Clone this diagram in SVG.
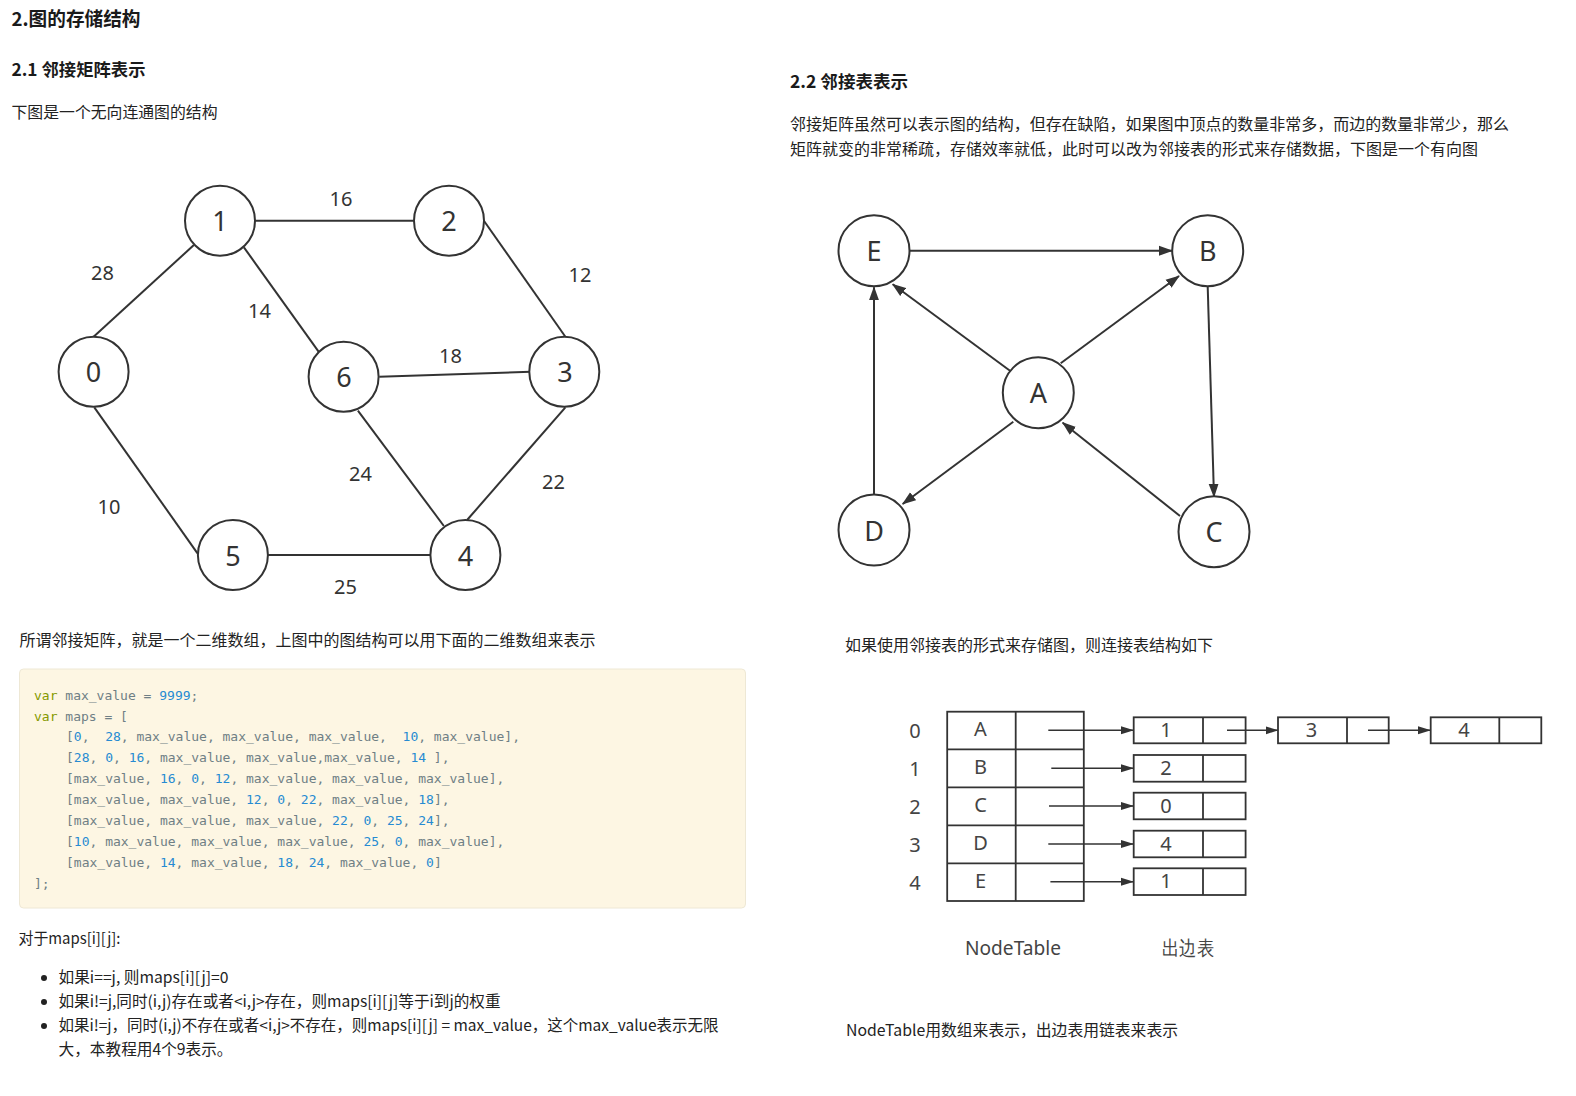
<svg xmlns="http://www.w3.org/2000/svg" width="1576" height="1096" viewBox="0 0 1576 1096">
<style>
.h{font-family:"Noto Sans CJK SC","Noto Sans",sans-serif;font-weight:bold;fill:#1a1a1a}
.p{font-family:"Noto Sans CJK SC","Noto Sans",sans-serif;font-size:15.5px;fill:#222}
.node circle{fill:#fff;stroke:#333;stroke-width:2}
.node text{font-family:"Noto Sans","Noto Sans CJK SC",sans-serif;font-size:27px;fill:#333;text-anchor:middle;dominant-baseline:central}
.edges line{stroke:#333;stroke-width:2}
.w{font-family:"Noto Sans",sans-serif;font-size:20px;fill:#333;text-anchor:middle;dominant-baseline:central}
.code text{font-family:"DejaVu Sans Mono","Liberation Mono",monospace;font-size:13px;fill:#6f7f85;white-space:pre}
.k{fill:#859900}
.n{fill:#268bd2}
.cell{fill:none;stroke:#333;stroke-width:1.8}
.lt{font-family:"Noto Sans",sans-serif;font-size:20px;fill:#444;text-anchor:middle;dominant-baseline:central}
.al line{stroke:#333;stroke-width:1.6}
</style>
<defs>
<marker id="ah" markerUnits="userSpaceOnUse" markerWidth="15" markerHeight="11" refX="13" refY="5.5" orient="auto">
<path d="M0,0.5 L14,5.5 L0,10.5 z" fill="#333"/>
</marker>
<marker id="ah2" markerUnits="userSpaceOnUse" markerWidth="14" markerHeight="10" refX="12" refY="5" orient="auto">
<path d="M0,1 L13,5 L0,9 z" fill="#333"/>
</marker>
</defs>
<rect width="1576" height="1096" fill="#fff"/>

<!-- Headings and text -->
<text class="h" x="11.5" y="25.5" font-size="19" textLength="129" lengthAdjust="spacingAndGlyphs">2.图的存储结构</text>
<text class="h" x="11.5" y="76" font-size="17.5" textLength="134" lengthAdjust="spacingAndGlyphs">2.1 邻接矩阵表示</text>
<text class="p" x="11.5" y="118" textLength="206" lengthAdjust="spacingAndGlyphs">下图是一个无向连通图的结构</text>
<text class="h" x="790" y="88" font-size="17.5" textLength="118" lengthAdjust="spacingAndGlyphs">2.2 邻接表表示</text>
<text class="p" x="790" y="130" textLength="719" lengthAdjust="spacingAndGlyphs">邻接矩阵虽然可以表示图的结构，但存在缺陷，如果图中顶点的数量非常多，而边的数量非常少，那么</text>
<text class="p" x="790" y="155" textLength="688" lengthAdjust="spacingAndGlyphs">矩阵就变的非常稀疏，存储效率就低，此时可以改为邻接表的形式来存储数据，下图是一个有向图</text>
<text class="p" x="19.5" y="646" textLength="576" lengthAdjust="spacingAndGlyphs">所谓邻接矩阵，就是一个二维数组，上图中的图结构可以用下面的二维数组来表示</text>
<text class="p" x="845" y="651" textLength="368" lengthAdjust="spacingAndGlyphs">如果使用邻接表的形式来存储图，则连接表结构如下</text>
<text class="p" x="846" y="1036" textLength="332" lengthAdjust="spacingAndGlyphs">NodeTable用数组来表示，出边表用链表来表示</text>
<text class="p" x="18.5" y="944" textLength="102" lengthAdjust="spacingAndGlyphs">对于maps[i][j]:</text>
<circle cx="44" cy="978" r="3" fill="#222"/>
<circle cx="44" cy="1002" r="3" fill="#222"/>
<circle cx="44" cy="1026" r="3" fill="#222"/>
<text class="p" x="58.5" y="983" textLength="170" lengthAdjust="spacingAndGlyphs">如果i==j, 则maps[i][j]=0</text>
<text class="p" x="58.5" y="1007" textLength="442" lengthAdjust="spacingAndGlyphs">如果i!=j,同时(i,j)存在或者&lt;i,j&gt;存在，则maps[i][j]等于i到j的权重</text>
<text class="p" x="58.5" y="1031" textLength="660" lengthAdjust="spacingAndGlyphs">如果i!=j，同时(i,j)不存在或者&lt;i,j&gt;不存在，则maps[i][j] = max_value，这个max_value表示无限</text>
<text class="p" x="58.5" y="1055" textLength="174" lengthAdjust="spacingAndGlyphs">大，本教程用4个9表示。</text>

<!-- Code block -->
<rect x="19.5" y="669" width="726" height="239" rx="4" fill="#fdf6e3" stroke="#eee8d5"/>
<g class="code">
<text x="34" y="699.5" xml:space="preserve"><tspan class="k">var</tspan> max_value = <tspan class="n">9999</tspan>;</text>
<text x="34" y="720.5" xml:space="preserve"><tspan class="k">var</tspan> maps = [</text>
<text x="66" y="741.2" xml:space="preserve">[<tspan class="n">0</tspan>,  <tspan class="n">28</tspan>, max_value, max_value, max_value,  <tspan class="n">10</tspan>, max_value],</text>
<text x="66" y="762.2" xml:space="preserve">[<tspan class="n">28</tspan>, <tspan class="n">0</tspan>, <tspan class="n">16</tspan>, max_value, max_value,max_value, <tspan class="n">14</tspan> ],</text>
<text x="66" y="783.3" xml:space="preserve">[max_value, <tspan class="n">16</tspan>, <tspan class="n">0</tspan>, <tspan class="n">12</tspan>, max_value, max_value, max_value],</text>
<text x="66" y="804.3" xml:space="preserve">[max_value, max_value, <tspan class="n">12</tspan>, <tspan class="n">0</tspan>, <tspan class="n">22</tspan>, max_value, <tspan class="n">18</tspan>],</text>
<text x="66" y="825.3" xml:space="preserve">[max_value, max_value, max_value, <tspan class="n">22</tspan>, <tspan class="n">0</tspan>, <tspan class="n">25</tspan>, <tspan class="n">24</tspan>],</text>
<text x="66" y="846.3" xml:space="preserve">[<tspan class="n">10</tspan>, max_value, max_value, max_value, <tspan class="n">25</tspan>, <tspan class="n">0</tspan>, max_value],</text>
<text x="66" y="867.2" xml:space="preserve">[max_value, <tspan class="n">14</tspan>, max_value, <tspan class="n">18</tspan>, <tspan class="n">24</tspan>, max_value, <tspan class="n">0</tspan>]</text>
<text x="34" y="888">];</text>
</g>

<!-- Graph 1 connectors -->
<g id="edges-undirected" class="edges">
<line x1="93.6" y1="336.7" x2="193.9" y2="245"/>
<line x1="243.9" y1="247.3" x2="319.3" y2="352.7"/>
<line x1="255" y1="220.7" x2="414.3" y2="220.7"/>
<line x1="483.9" y1="220.7" x2="565.4" y2="336.7"/>
<line x1="379.3" y1="376.7" x2="531" y2="371.7"/>
<line x1="94.3" y1="407.3" x2="197.5" y2="553.3"/>
<line x1="357.9" y1="410.7" x2="443.9" y2="526"/>
<line x1="565.4" y1="407.3" x2="467.1" y2="520"/>
<line x1="268" y1="555" x2="431" y2="555"/>
</g>
<g id="weights">
<text class="w" x="341" y="198">16</text>
<text class="w" x="102.5" y="272">28</text>
<text class="w" x="259.5" y="310">14</text>
<text class="w" x="580" y="274">12</text>
<text class="w" x="450.5" y="355">18</text>
<text class="w" x="360.5" y="473">24</text>
<text class="w" x="553.5" y="481.5">22</text>
<text class="w" x="109" y="506">10</text>
<text class="w" x="345.5" y="586.5">25</text>
</g>
<g id="n0" class="node"><circle cx="93.6" cy="371.7" r="35"/><text x="93.6" y="371.7">0</text></g>
<g id="n1" class="node"><circle cx="220" cy="220.7" r="35"/><text x="220" y="220.7">1</text></g>
<g id="n2" class="node"><circle cx="449" cy="220.7" r="35"/><text x="449" y="220.7">2</text></g>
<g id="n3" class="node"><circle cx="564.3" cy="371.7" r="35"/><text x="565" y="371.7">3</text></g>
<g id="n4" class="node"><circle cx="465.4" cy="555" r="35"/><text x="465.4" y="555">4</text></g>
<g id="n5" class="node"><circle cx="232.9" cy="555" r="35"/><text x="232.9" y="555">5</text></g>
<g id="n6" class="node"><circle cx="343.6" cy="376.7" r="35"/><text x="344" y="376.7">6</text></g>

<!-- Graph 2 connectors -->
<g id="edges-directed" class="edges">
<line x1="909.5" y1="250.7" x2="1172" y2="250.7" marker-end="url(#ah)"/>
<line x1="1060.7" y1="363.3" x2="1179" y2="276" marker-end="url(#ah)"/>
<line x1="1010" y1="370.7" x2="892.7" y2="284.3" marker-end="url(#ah)"/>
<line x1="1207.7" y1="286.7" x2="1214" y2="496.7" marker-end="url(#ah)"/>
<line x1="1180" y1="516" x2="1062.7" y2="422.7" marker-end="url(#ah)"/>
<line x1="1013.3" y1="421.7" x2="902.7" y2="504" marker-end="url(#ah)"/>
<line x1="874" y1="495" x2="874" y2="287.3" marker-end="url(#ah)"/>
</g>
<g id="nE" class="node"><circle cx="874" cy="250.7" r="35.5"/><text x="874" y="250.7">E</text></g>
<g id="nB" class="node"><circle cx="1207.7" cy="250.7" r="35.5"/><text x="1207.7" y="250.7">B</text></g>
<g id="nA" class="node"><circle cx="1038.3" cy="392.7" r="35.5"/><text x="1038.3" y="392.7">A</text></g>
<g id="nD" class="node"><circle cx="874" cy="530" r="35.5"/><text x="874" y="530">D</text></g>
<g id="nC" class="node"><circle cx="1214" cy="531.7" r="35.5"/><text x="1214" y="531.7">C</text></g>

<!-- Adjacency list -->
<g id="nodetable">
<rect class="cell" x="947.2" y="711.7" width="136.6" height="189.3"/>
<line class="cell" x1="1015.7" y1="711.7" x2="1015.7" y2="901"/>
<line class="cell" x1="947.2" y1="749.3" x2="1083.8" y2="749.3"/>
<line class="cell" x1="947.2" y1="787.3" x2="1083.8" y2="787.3"/>
<line class="cell" x1="947.2" y1="825.3" x2="1083.8" y2="825.3"/>
<line class="cell" x1="947.2" y1="863.3" x2="1083.8" y2="863.3"/>
<text class="lt" x="915" y="730">0</text>
<text class="lt" x="915" y="768">1</text>
<text class="lt" x="915" y="806">2</text>
<text class="lt" x="915" y="844">3</text>
<text class="lt" x="915" y="882">4</text>
<text class="lt" x="980.5" y="728">A</text>
<text class="lt" x="980.5" y="766">B</text>
<text class="lt" x="980.5" y="804">C</text>
<text class="lt" x="980.5" y="842">D</text>
<text class="lt" x="980.5" y="880">E</text>
</g>
<g id="l0a"><rect class="cell" x="1133.7" y="717.3" width="111.9" height="26"/><line class="cell" x1="1203" y1="717.3" x2="1203" y2="743.3"/><text class="lt" x="1166" y="729">1</text></g>
<g id="l0b"><rect class="cell" x="1278" y="717.3" width="110.7" height="26"/><line class="cell" x1="1347" y1="717.3" x2="1347" y2="743.3"/><text class="lt" x="1311.5" y="729">3</text></g>
<g id="l0c"><rect class="cell" x="1430.7" y="717.3" width="110.6" height="26"/><line class="cell" x1="1499.3" y1="717.3" x2="1499.3" y2="743.3"/><text class="lt" x="1464" y="729">4</text></g>
<g id="l1"><rect class="cell" x="1133.7" y="755" width="111.9" height="26.7"/><line class="cell" x1="1203" y1="755" x2="1203" y2="781.7"/><text class="lt" x="1166" y="767">2</text></g>
<g id="l2"><rect class="cell" x="1133.7" y="792.7" width="111.9" height="26.6"/><line class="cell" x1="1203" y1="792.7" x2="1203" y2="819.3"/><text class="lt" x="1166" y="805">0</text></g>
<g id="l3"><rect class="cell" x="1133.7" y="830.7" width="111.9" height="26.6"/><line class="cell" x1="1203" y1="830.7" x2="1203" y2="857.3"/><text class="lt" x="1166" y="843">4</text></g>
<g id="l4"><rect class="cell" x="1133.7" y="868.3" width="111.9" height="26.7"/><line class="cell" x1="1203" y1="868.3" x2="1203" y2="895"/><text class="lt" x="1166" y="880.5">1</text></g>
<g id="list-arrows" class="al">
<line x1="1048.3" y1="730.3" x2="1133" y2="730.3" marker-end="url(#ah2)"/>
<line x1="1227" y1="730.3" x2="1277.5" y2="730.3" marker-end="url(#ah2)"/>
<line x1="1368" y1="730.3" x2="1430" y2="730.3" marker-end="url(#ah2)"/>
<line x1="1051.3" y1="768.3" x2="1133" y2="768.3" marker-end="url(#ah2)"/>
<line x1="1049" y1="806" x2="1133" y2="806" marker-end="url(#ah2)"/>
<line x1="1048.3" y1="844" x2="1133" y2="844" marker-end="url(#ah2)"/>
<line x1="1050.4" y1="881.7" x2="1133" y2="881.7" marker-end="url(#ah2)"/>
</g>
<text class="lt" x="1013" y="947" textLength="96" lengthAdjust="spacingAndGlyphs">NodeTable</text>
<text class="lt" x="1188" y="947" font-family="Noto Sans CJK SC,sans-serif" textLength="52" lengthAdjust="spacingAndGlyphs">出边表</text>
</svg>
